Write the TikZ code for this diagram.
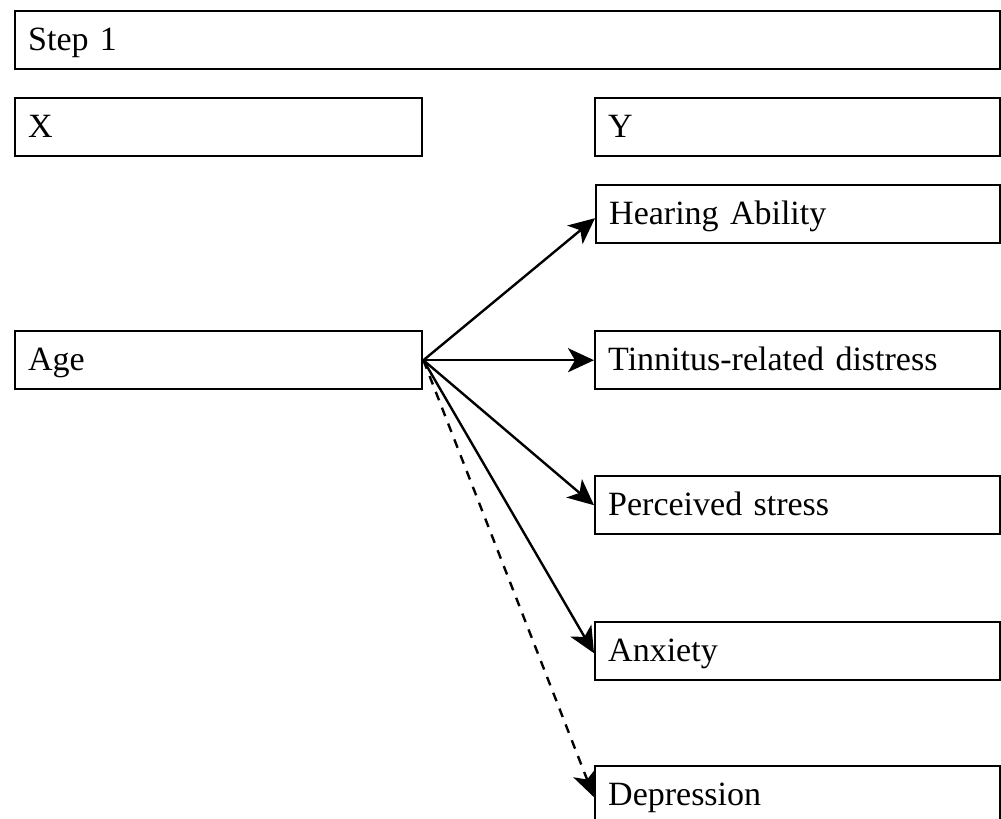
\documentclass[tikz,border=0pt]{standalone}
\usepackage{fontspec}
\setmainfont{Liberation Serif}
\usetikzlibrary{arrows.meta}
\begin{document}
\begin{tikzpicture}[x=1pt,y=-1pt,
  box/.style={draw, line width=2.4pt, rectangle, anchor=north west,
    inner xsep=13pt, inner ysep=0pt, minimum height=58pt,
    text height=21pt, text depth=0pt, align=left,
    font=\fontsize{34}{40}\selectfont},
  wide/.style={text width=959pt},
  half/.style={text width=381pt},
  conn/.style={line width=2.4pt, -{Stealth[length=26pt,width=24pt,inset=7pt]}},
  dconn/.style={conn, dash pattern=on 9pt off 8pt}]
\path[use as bounding box] (0,0) rectangle (1001,819);
\clip (0,0) rectangle (1001,819);
\fill[white] (0,0) rectangle (1001,819);
\node[box, wide] (step) at (14,10) {Step 1};
\node[box, half] (x) at (14,97) {X};
\node[box, text width=379pt] (y) at (594,97) {Y};
\node[box, text width=378pt] (hear) at (595,184) {Hearing Ability};
\node[box, half] (age) at (14,330) {Age};
\node[box, text width=379pt] (tinn) at (594,330) {Tinnitus-related distress};
\node[box, text width=379pt] (perc) at (594,475) {Perceived stress};
\node[box, text width=379pt] (anx) at (594,621) {Anxiety};
\node[box, text width=379pt] (dep) at (594,765) {Depression};
\draw[conn] (age.east) -- ([yshift=-4pt]hear.west);
\draw[conn] (age.east) -- (tinn.west);
\draw[conn] (age.east) -- (perc.west);
\draw[conn] (age.east) -- ([yshift=-2pt]anx.west);
\draw[dconn] (age.east) -- ([yshift=-2pt]dep.west);
\end{tikzpicture}
\end{document}
